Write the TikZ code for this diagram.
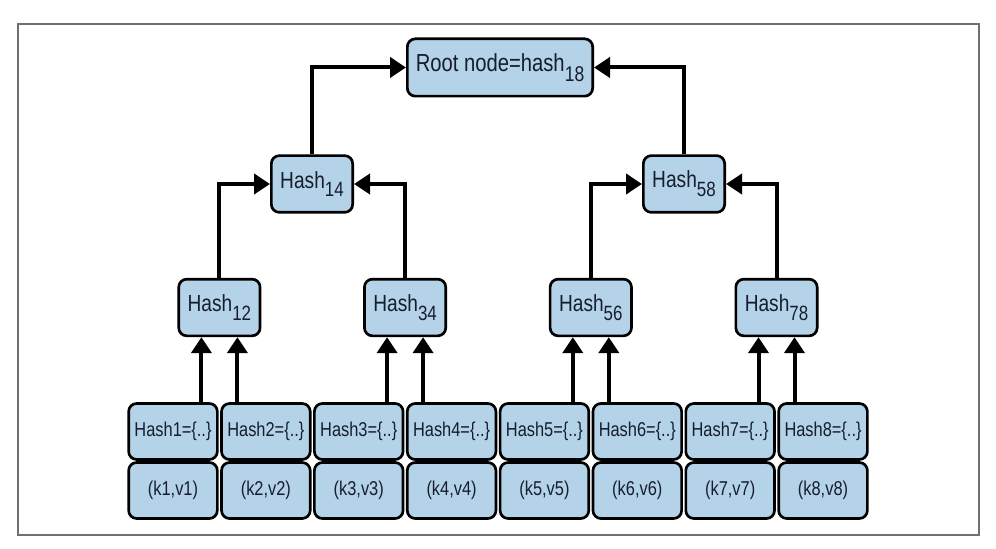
\documentclass[tikz,border=0pt]{standalone}
\usepackage{fontspec}
\setmainfont{Liberation Sans}[FakeStretch=0.82]
\usetikzlibrary{arrows.meta}

\definecolor{boxblue}{RGB}{180,211,232}
\definecolor{inkblue}{RGB}{22,30,46}
\definecolor{framegray}{RGB}{112,112,112}

% lowered digits after Hash
\newcommand{\hsub}[2][15.5]{\raisebox{-0.38em}{\fontsize{#1}{#1}\selectfont #2}}

\tikzset{
  merklebox/.style={draw=black, line width=2pt, fill=boxblue, rounded corners=6pt,
    text=inkblue, inner sep=0pt},
  rootbox/.style={merklebox, minimum width=139pt, minimum height=43pt,
    font=\fontsize{18.5}{18.5}\selectfont},
  hashbox/.style={merklebox, minimum width=61pt, minimum height=42.5pt,
    font=\fontsize{17.5}{17.5}\selectfont},
  leafbox/.style={merklebox, minimum width=66.5pt, minimum height=42pt,
    font=\fontsize{15}{15}\selectfont},
  arr/.style={line width=3pt, -{Triangle[length=12pt,width=15pt]}},
}

\begin{document}
\begin{tikzpicture}[x=0.75pt,y=0.75pt,yscale=-1,xscale=1]
\useasboundingbox (0,0) rectangle (996,549);

%Frame
\draw [framegray, line width=1pt] (18,24) rectangle (979,535);

% Text Node
\node [rootbox] (root) at (500,67.5) {Root node=hash\hsub[16]{18}};

% Text Node
\node [hashbox] (h14) at (312,184) {Hash\hsub{14}};
\node [hashbox] (h58) at (684,184) {Hash\hsub{58}};

% leaves: hash row and key/value row
\foreach \i in {1,...,8} {
  \node [leafbox] (hl\i) at ({173+(\i-1)*92.86},431.5) {Hash\i=\{..\}};
  \node [leafbox] (kv\i) at ({173+(\i-1)*92.86},490.5) {(k\i,v\i)};
}

% second level hashes and the arrows into them
\foreach \i/\a/\b [count=\n] in {12/1/2,34/3/4,56/5/6,78/7/8} {
  \node [hashbox] (h\i) at ({219.4+(\n-1)*185.7},307.5) {Hash\hsub{\i}};
  \coordinate (p\a) at ([xshift=-13.5pt]h\i.south);
  \coordinate (p\b) at ([xshift=13.5pt]h\i.south);
  \draw [arr] (hl\a.north -| p\a) -- (p\a);
  \draw [arr] (hl\b.north -| p\b) -- (p\b);
}

%Straight Lines
\draw [arr] (h12.north) |- (h14.west);
\draw [arr] (h34.north) |- (h14.east);
\draw [arr] (h56.north) |- (h58.west);
\draw [arr] (h78.north) |- (h58.east);
\draw [arr] (h14.north) |- (root.west);
\draw [arr] (h58.north) |- (root.east);

\end{tikzpicture}
\end{document}
